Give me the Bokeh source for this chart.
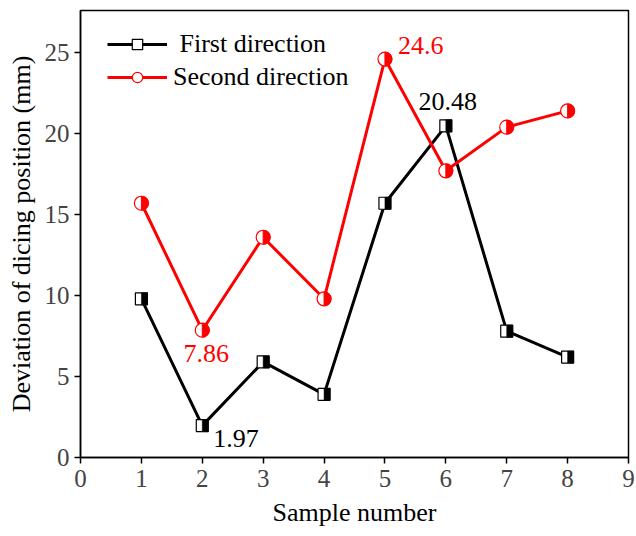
import numpy as np
from bokeh.plotting import figure
from bokeh.models import Legend, LegendItem, ColumnDataSource, FixedTicker, Label
from bokeh.embed import file_html
from bokeh.resources import INLINE

samples = [1, 2, 3, 4, 5, 6, 7, 8]
first_dir = [9.8, 1.97, 5.9, 3.9, 15.7, 20.48, 7.8, 6.2]
second_dir = [15.7, 7.86, 13.6, 9.8, 24.6, 17.7, 20.4, 21.4]
x_ticks = [0, 1, 2, 3, 4, 5, 6, 7, 8, 9]
y_ticks = [0, 5, 10, 15, 20, 25]

FONT = "Liberation Serif"
W, H = 636, 536
BL, BR, BT, BB = 80, 8, 10, 79
XR = (0, 9)
YR = (0, 27.6)

p = figure(width=W, height=H, output_backend="svg", toolbar_location=None,
           x_range=XR, y_range=YR,
           min_border_left=BL, min_border_right=BR, min_border_top=BT, min_border_bottom=BB)
p.grid.visible = False
p.outline_line_color = "black"
p.outline_line_width = 1.5

for ax in (p.xaxis[0], p.yaxis[0]):
    ax.major_label_text_font = FONT
    ax.major_label_text_font_size = "25px"
    ax.axis_label_text_font = FONT
    ax.axis_label_text_font_size = "26px"
    ax.axis_label_text_color = "black"
    ax.axis_label_text_font_style = "normal"
    ax.axis_line_width = 1.5
    ax.major_tick_line_width = 1.5
    ax.major_tick_in = 0
    ax.major_tick_out = 6
    ax.minor_tick_line_color = None
p.xaxis.ticker = FixedTicker(ticks=x_ticks)
p.yaxis.ticker = FixedTicker(ticks=y_ticks)
p.xaxis.axis_label = "Sample number"
p.yaxis.axis_label = "Deviation of dicing position (mm)"
p.xaxis.major_label_standoff = 6
p.yaxis.major_label_standoff = 5
p.xaxis.axis_label_standoff = 8
p.yaxis.axis_label_standoff = 6

# screen-pixel -> data-unit conversion for the half-filled markers
ux = (XR[1] - XR[0]) / (W - BL - BR)
uy = (YR[1] - YR[0]) / (H - BT - BB)
xs = np.array(samples, dtype=float)
a = np.array(first_dir)

src = ColumnDataSource(dict(x=samples, a=first_dir, b=second_dir))

l1 = p.line("x", "a", source=src, line_color="black", line_width=3)
l2 = p.line("x", "b", source=src, line_color="red", line_width=3)

# first direction: half-filled squares
s1 = p.scatter("x", "a", source=src, marker="square", size=12, fill_color="white",
               line_color="black", line_width=1.2)
p.quad(left=xs, right=xs + 6 * ux, bottom=a - 6 * uy, top=a + 6 * uy,
       fill_color="black", line_color="black", line_width=0.5)

# second direction: half-filled circles
s2 = p.scatter("x", "b", source=src, marker="circle", size=14, fill_color="white",
               line_color="red", line_width=1.2)
p.wedge("x", "b", source=src, radius=7, radius_units="screen",
        start_angle=-np.pi / 2, end_angle=np.pi / 2,
        fill_color="red", line_color="red")

# annotations
i2 = samples.index(2)
i5 = samples.index(5)
i6 = samples.index(6)
notes = [
    (samples[i2], first_dir[i2], f"{first_dir[i2]:.2f}", "black", "left", 11, -13),
    (samples[i6], first_dir[i6], f"{first_dir[i6]:.2f}", "black", "center", 2, 24),
    (samples[i2], second_dir[i2], f"{second_dir[i2]:.2f}", "red", "center", 4, -23),
    (samples[i5], second_dir[i5], f"{second_dir[i5]:.1f}", "red", "left", 13, 14),
]
for nx, ny, txt, col, align, xo, yo in notes:
    p.add_layout(Label(x=nx, y=ny, text=txt, text_font=FONT, text_font_size="26px",
                       text_color=col, text_align=align, text_baseline="middle",
                       x_offset=xo, y_offset=yo))

legend = Legend(items=[
    LegendItem(label=" First direction", renderers=[l1, s1]),
    LegendItem(label="Second direction", renderers=[l2, s2]),
], location=(27, 365))
legend.label_text_font = FONT
legend.label_text_font_size = "26px"
legend.label_text_color = "black"
legend.background_fill_alpha = 0
legend.border_line_color = None
legend.glyph_width = 60
legend.glyph_height = 26
legend.spacing = 3
legend.label_standoff = 6
legend.margin = 0
legend.padding = 0
p.add_layout(legend)

open("out.html", "w").write(file_html(p, INLINE))
